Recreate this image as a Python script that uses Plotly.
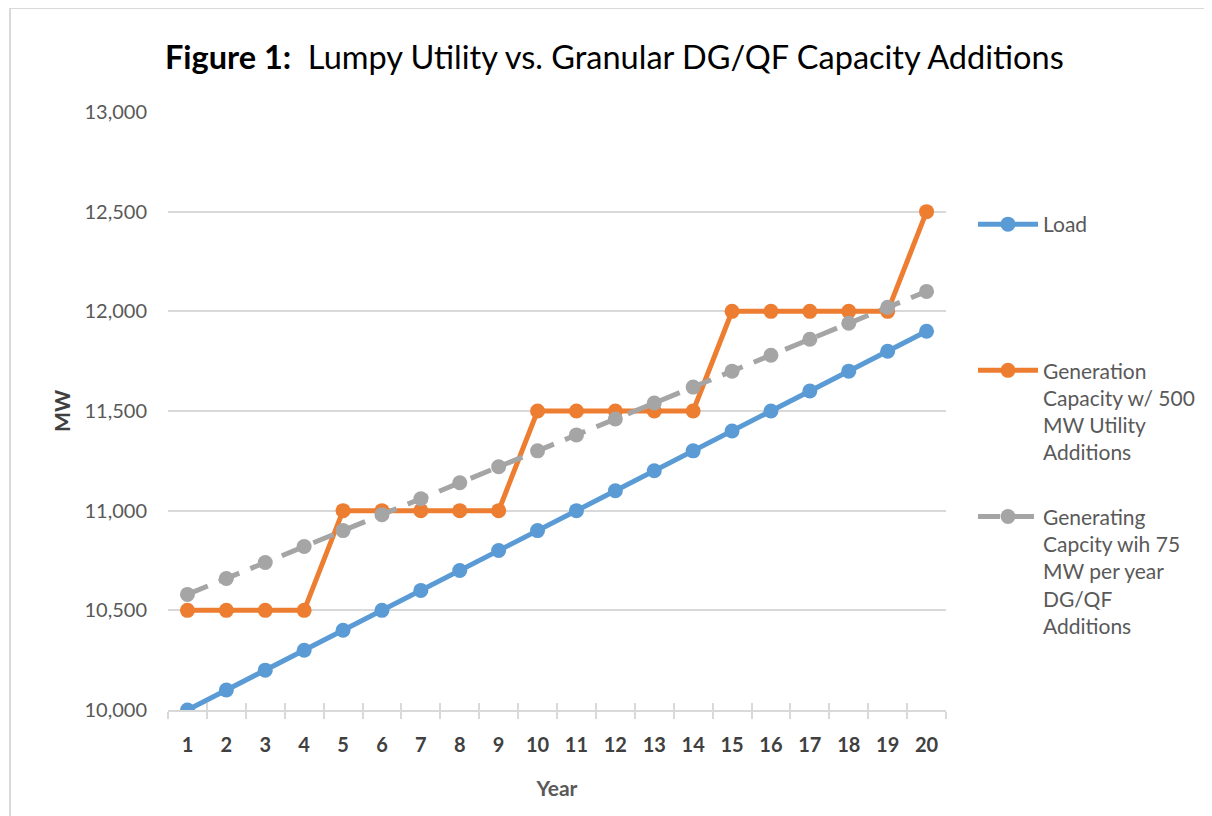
import plotly.graph_objects as go

years = list(range(1, 21))
load = [10000, 10100, 10200, 10300, 10400, 10500, 10600, 10700, 10800, 10900,
        11000, 11100, 11200, 11300, 11400, 11500, 11600, 11700, 11800, 11900]
utility = [10500, 10500, 10500, 10500, 11000, 11000, 11000, 11000, 11000, 11500,
           11500, 11500, 11500, 11500, 12000, 12000, 12000, 12000, 12000, 12500]
dgqf = [10580, 10660, 10740, 10820, 10900, 10980, 11060, 11140, 11220, 11300,
        11380, 11460, 11540, 11620, 11700, 11780, 11860, 11940, 12020, 12100]
names = ["Load<br> <br> <br> ",
         "Generation<br>Capacity w/ 500<br>MW Utility<br>Additions",
         "Generating<br>Capcity wih 75<br>MW per year<br>DG/QF<br>Additions"]
yticks = [10000, 10500, 11000, 11500, 12000, 12500, 13000]

FONT = "Lato, Open Sans, sans-serif"
GRID = "#d9d9d9"
W, H = 1212, 816
L, T, PW, PH = 160, 104, 778, 598


def px(xf):
    return (xf - L) / PW


def py(yf):
    return (T + PH - yf) / PH


fig = go.Figure()
fig.add_trace(go.Scatter(x=years, y=load, name=names[0], legendgroup="a",
                         mode="lines+markers",
                         line=dict(color="#5B9BD5", width=5),
                         marker=dict(size=15, color="#5B9BD5")))
fig.add_trace(go.Scatter(x=years, y=utility, name=names[1], legendgroup="b",
                         mode="lines+markers",
                         line=dict(color="#ED7D31", width=5),
                         marker=dict(size=15, color="#ED7D31")))
fig.add_trace(go.Scatter(x=years, y=dgqf, name=names[2], legendgroup="c",
                         mode="lines+markers",
                         line=dict(color="#A5A5A5", width=5, dash="22px,12px"),
                         marker=dict(size=15, color="#A5A5A5")))

half = [y - 0.5 for y in years] + [20.5]

fig.update_layout(
    width=W, height=H,
    margin=dict(l=L, r=W - L - PW, t=T, b=H - T - PH),
    paper_bgcolor="white", plot_bgcolor="white",
    font=dict(family=FONT, color="#595959"),
    showlegend=True,
    legend=dict(x=px(965), xanchor="left", y=py(196), yanchor="top",
                font=dict(size=21, color="#595959", family=FONT),
                tracegroupgap=34, valign="top", itemwidth=60,
                bgcolor="rgba(0,0,0,0)"),
    xaxis=dict(range=[0.5, 20.5], tickmode="array", tickvals=years,
               ticktext=[str(y) for y in years], ticks="",
               tickfont=dict(size=20, color="#404040", family=FONT, weight="bold"),
               ticklabelstandoff=16,
               showgrid=False, zeroline=False,
               showline=True, linecolor=GRID, linewidth=2,
               minor=dict(tickmode="array", tickvals=half, ticks="outside",
                          ticklen=7, tickcolor=GRID, tickwidth=2, showgrid=False),
               title=dict(text="<b>Year</b>", font=dict(size=21, color="#595959", family=FONT),
                          standoff=26)),
    xaxis2=dict(range=[0.5, 20.5], overlaying="x", matches="x", anchor="y", side="bottom",
                tickmode="array", tickvals=half, ticks="inside", ticklen=7,
                tickcolor=GRID, tickwidth=2, showticklabels=False, showgrid=False,
                zeroline=False, showline=False),
    yaxis=dict(range=[10000, 13000], tickmode="array", tickvals=yticks,
               tickformat=",", ticks="", ticklabelstandoff=20,
               tickfont=dict(size=20, color="#595959", family=FONT),
               showgrid=True, gridcolor=GRID, gridwidth=2, zeroline=False,
               showline=False,
               title=dict(text="<b>MW</b>", font=dict(size=21, color="#404040", family=FONT),
                          standoff=8)),
    shapes=[dict(type="rect", xref="paper", yref="paper",
                 x0=px(2), x1=px(W + 20),
                 y0=py(H + 20), y1=py(0),
                 line=dict(color="#d9d9d9", width=2), layer="below")],
    annotations=[dict(text="<b>Figure 1:</b>  Lumpy Utility vs. Granular DG/QF Capacity Additions",
                      xref="paper", yref="paper", x=px(155), xanchor="left",
                      y=py(48), yanchor="middle", showarrow=False,
                      font=dict(size=32.5, color="#000000", family=FONT))],
)
# invisible trace to activate the overlay axis used for the upper half of the tick marks
fig.add_trace(go.Scatter(x=[1], y=[10000], xaxis="x2", yaxis="y", mode="markers",
                         marker=dict(opacity=0), showlegend=False, hoverinfo="skip"))

fig.write_html("out.html")
